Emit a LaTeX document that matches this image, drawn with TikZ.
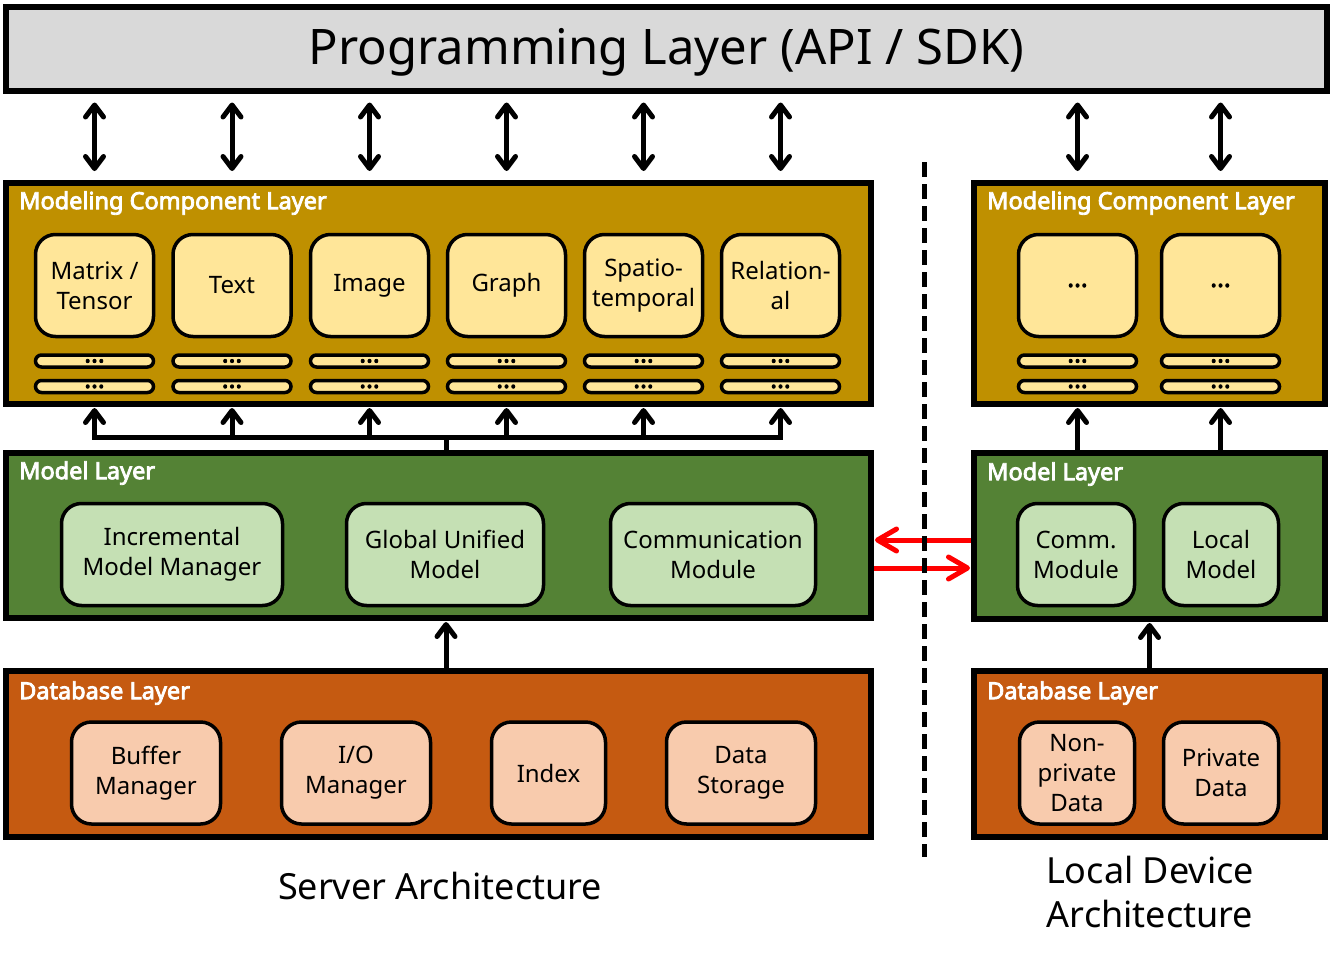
\documentclass[tikz,border=0pt]{standalone}
\usepackage{fontspec}
\setmainfont{Noto Sans}
\newfontfamily\lblfont{Noto Sans}[FakeBold=3.5]
\newfontfamily\dotfont{Noto Sans}[FakeBold=3]
\usetikzlibrary{arrows.meta,calc}
\definecolor{topgray}{HTML}{D9D9D9}
\definecolor{gold}{HTML}{BF9000}
\definecolor{ylw}{HTML}{FFE699}
\definecolor{grn}{HTML}{548235}
\definecolor{lgrn}{HTML}{C5E0B4}
\definecolor{org}{HTML}{C55A11}
\definecolor{lorg}{HTML}{F8CBAD}
\definecolor{arrred}{HTML}{FF0000}
\tikzset{
  layer/.style={draw, line width=6pt, rectangle, inner sep=0pt},
  layerlabel/.style={text=white, font=\lblfont\fontsize{23.5}{28}\selectfont, anchor=west, inner sep=0pt},
  comp/.style={draw, line width=3.5pt, rounded corners=20pt, align=center,
    font=\fontsize{24}{30}\selectfont, minimum height=102pt, inner sep=0pt},
  dots/.style={font=\dotfont\fontsize{26}{26}\selectfont},
  pill/.style={draw, line width=3.5pt, rounded corners=6pt, minimum width=118pt,
    minimum height=12pt, inner sep=0pt, fill=ylw, dots},
  barb/.tip={Straight Barb[length=12pt,width=18pt,line cap=round,line join=round]},
  redbarb/.tip={Straight Barb[length=19pt,width=22pt,line cap=round,line join=round]},
  dbl/.style={line width=5pt, barb-barb, shorten <=9pt, shorten >=9pt},
  uparr/.style={line width=5pt, -barb},
  busline/.style={line width=5pt},
  redarr/.style={line width=5pt, arrred, -redbarb},
  sep/.style={line width=5pt, dash pattern=on 15pt off 7pt},
  caption/.style={font=\fontsize{36}{44}\selectfont, align=center, inner sep=0pt}
}
\begin{document}
\begin{tikzpicture}[x=1pt,y=-1pt]
\useasboundingbox (0,0) rectangle (1333,958);

% ---------- top layer
\node[layer, fill=topgray, minimum width=1321pt, minimum height=83pt] (top) at (666.5,49) {};
\node[font=\fontsize{49}{52}\selectfont, inner sep=0pt] (toplab) at (666.5,52) {Programming Layer (API / SDK)};

% ---------- server: modeling component layer
\node[layer, fill=gold, minimum width=865pt, minimum height=221pt] (mcl) at (438.5,293.5) {};
\node[layerlabel] (mcllab) at (19,203) {Modeling Component Layer};
\node[comp, fill=ylw, minimum width=118pt] (m1) at (94.5,285.5) {Matrix /\\Tensor};
\node[comp, fill=ylw, minimum width=118pt] (m2) at (232,285.5) {Text};
\node[comp, fill=ylw, minimum width=118pt] (m3) at (369.5,285.5) {Image};
\node[comp, fill=ylw, minimum width=118pt] (m4) at (506.5,285.5) {Graph};
\node[comp, fill=ylw, minimum width=118pt] (m5) at (643.5,285.5) {Spatio-\\temporal};
\node[comp, fill=ylw, minimum width=118pt] (m6) at (780.5,285.5) {Relation-\\al};
\foreach \n in {1,...,6} {
  \node[pill] (p\n a) at ($(m\n)+(0,75.5)$) {…};
  \node[pill] (p\n b) at ($(m\n)+(0,101)$) {…};
}

% ---------- local: modeling component layer
\node[layer, fill=gold, minimum width=351pt, minimum height=221pt] (rmcl) at (1149.5,293.5) {};
\node[layerlabel] (rmcllab) at (987,203) {Modeling Component Layer};
\node[comp, fill=ylw, minimum width=118pt, dots] (r1) at (1077.5,285.5) {…};
\node[comp, fill=ylw, minimum width=118pt, dots] (r2) at (1220.5,285.5) {…};
\foreach \n in {1,2} {
  \node[pill] (q\n a) at ($(r\n)+(0,75.5)$) {…};
  \node[pill] (q\n b) at ($(r\n)+(0,101)$) {…};
}

% ---------- model layers
\node[layer, fill=grn, minimum width=865pt, minimum height=165pt] (ml) at (438.5,535.5) {};
\node[layerlabel] (mllab) at (19,473) {Model Layer};
\node[comp, fill=lgrn, minimum width=221pt] (imm) at (172,554.5) {Incremental\\Model Manager};
\node[comp, fill=lgrn, minimum width=197pt] (gum) at (445,554.5) {Global Unified\\Model};
\node[comp, fill=lgrn, minimum width=205pt] (cm) at (713,554.5) {Communication\\Module};

\node[layer, fill=grn, minimum width=351pt, minimum height=166pt] (rml) at (1149.5,536) {};
\node[layerlabel] (rmllab) at (987,474) {Model Layer};
\node[comp, fill=lgrn, minimum width=117pt] (rcm) at (1076,554.5) {Comm.\\Module};
\node[comp, fill=lgrn, minimum width=115pt] (rlm) at (1221,554.5) {Local\\Model};

% ---------- database layers
\node[layer, fill=org, minimum width=865pt, minimum height=166pt] (db) at (438.5,754) {};
\node[layerlabel] (dblab) at (19,693) {Database Layer};
\node[comp, fill=lorg, minimum width=149pt] (bm) at (146,773) {Buffer\\Manager};
\node[comp, fill=lorg, minimum width=149pt] (iom) at (356,773) {I/O\\Manager};
\node[comp, fill=lorg, minimum width=114pt] (idx) at (548.5,773) {Index};
\node[comp, fill=lorg, minimum width=149pt] (ds) at (741,773) {Data\\Storage};

\node[layer, fill=org, minimum width=351pt, minimum height=166pt] (rdb) at (1149.5,754) {};
\node[layerlabel] (rdblab) at (987,693) {Database Layer};
\node[comp, fill=lorg, minimum width=115pt] (npd) at (1077,773) {Non-\\private\\Data};
\node[comp, fill=lorg, minimum width=115pt] (pd) at (1221,773) {Private\\Data};

% ---------- captions
\node[caption] (srv) at (440,886) {Server Architecture};
\node[caption] (loc) at (1150,892) {Local Device\\Architecture};

% ---------- connectors
\foreach \n in {m1,m2,m3,m4,m5,m6}
  \draw[dbl] (top.south -| \n) -- (mcl.north -| \n);
\foreach \n in {r1,r2}
  \draw[dbl] (top.south -| \n) -- (rmcl.north -| \n);

\coordinate (bus) at (446,437);
\draw[busline, line cap=rect] (m1 |- bus) -- (m6 |- bus);
\draw[busline] (bus) -- (bus |- ml.north);
\foreach \n in {m1,m2,m3,m4,m5,m6}
  \draw[uparr, shorten >=1pt] (\n |- bus) -- (\n |- mcl.south);
\foreach \n in {r1,r2}
  \draw[uparr, shorten >=1pt] (\n |- rml.north) -- (\n |- rmcl.south);

\draw[uparr, shorten >=1pt] (bus |- db.north) -- (bus |- ml.south);
\draw[uparr, shorten >=1pt] (rml.center |- rdb.north) -- (rml.center |- rml.south);

\coordinate (ra) at (924,540);
\coordinate (rb) at (924,568);
\draw[redarr, shorten >=1pt] (rml.west |- ra) -- (ml.east |- ra);
\draw[redarr, shorten >=1pt] (ml.east |- rb) -- (rml.west |- rb);

\coordinate (dtop) at (924,162);
\coordinate (dbot) at (924,857);
\draw[sep] (dtop) -- (dbot);
\end{tikzpicture}
\end{document}
